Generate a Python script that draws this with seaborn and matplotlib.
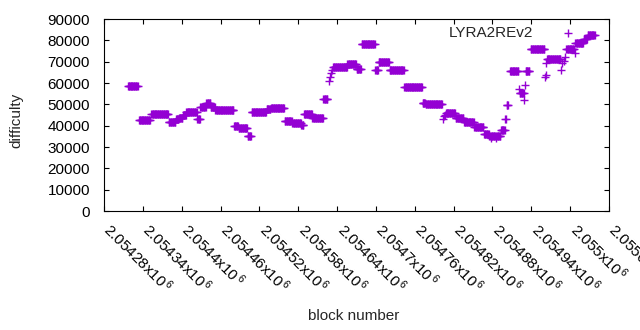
import numpy as np
import pandas as pd
import matplotlib
matplotlib.use('Agg')
import matplotlib.pyplot as plt
import matplotlib.transforms as mtransforms
import seaborn as sns

sns.set_style('ticks')
plt.rcParams['font.family'] = ['Liberation Sans', 'DejaVu Sans']
plt.rcParams['mathtext.default'] = 'regular'

# runs of equal difficulty: first block, last block, difficulty
run_start = [2054317, 2054334, 2054353, 2054380, 2054391, 2054396, 2054402, 2054407,
             2054424, 2054429, 2054438, 2054445, 2054452, 2054481, 2054488, 2054502,
             2054508, 2054531, 2054538, 2054559, 2054571, 2054585, 2054589, 2054602,
             2054619, 2054627, 2054629, 2054631, 2054632, 2054634, 2054656, 2054670,
             2054678, 2054699, 2054704, 2054721, 2054744, 2054772, 2054777, 2054803,
             2054805, 2054807, 2054808, 2054823, 2054836, 2054852, 2054867, 2054875,
             2054878, 2054879, 2054885, 2054886, 2054893, 2054900, 2054902, 2054907,
             2054921, 2054922, 2054929, 2054930, 2054931, 2054939, 2054961, 2054962,
             2054963, 2054964, 2054986, 2054988, 2054990, 2054992, 2054994, 2055007,
             2055008, 2055021, 2055027]
run_end = [2054332, 2054351, 2054379, 2054390, 2054395, 2054401, 2054406, 2054423,
           2054428, 2054437, 2054444, 2054451, 2054480, 2054487, 2054501, 2054507,
           2054530, 2054537, 2054558, 2054570, 2054584, 2054588, 2054601, 2054618,
           2054625, 2054627, 2054629, 2054631, 2054632, 2054655, 2054669, 2054677,
           2054698, 2054703, 2054720, 2054743, 2054771, 2054776, 2054802, 2054803,
           2054805, 2054807, 2054822, 2054835, 2054851, 2054866, 2054874, 2054877,
           2054878, 2054884, 2054885, 2054892, 2054899, 2054901, 2054904, 2054920,
           2054921, 2054928, 2054929, 2054930, 2054937, 2054960, 2054961, 2054962,
           2054963, 2054985, 2054986, 2054988, 2054990, 2054992, 2055006, 2055007,
           2055020, 2055026, 2055038]
run_diff = [58500, 42500, 45300, 41800, 42900, 43800, 45100, 46300,
            43000, 48600, 50600, 48800, 47200, 40000, 38800, 35100,
            46600, 47600, 48100, 42400, 41300, 40200, 45300, 43450,
            52600, 60900, 63000, 64800, 66100, 67350, 69000, 66400,
            78100, 66000, 69800, 66000, 58000, 50600, 50100, 43300,
            44300, 45100, 45900, 43450, 41900, 39250, 36300, 35200,
            34200, 35200, 34300, 35200, 37800, 43000, 49700, 65500,
            57000, 55300, 52000, 59000, 65500, 76100, 63000, 63600,
            69200, 71400, 66300, 69200, 70500, 72300, 76100, 74200,
            78900, 80600, 82350]

xtick_vals = np.arange(2054280, 2055061, 60)
ytick_vals = np.arange(0, 90001, 10000)

blocks = []
diffs = []
for a, b, d in zip(run_start, run_end, run_diff):
    for blk in range(a, b + 1):
        blocks.append(blk)
        diffs.append(d)
data = pd.DataFrame({'block': blocks, 'difficulty': diffs})

fig = plt.figure(figsize=(6.4, 3.3), dpi=100)
ax = fig.add_axes([0.1625, 0.3606, 0.9516 - 0.1625, 0.9424 - 0.3606])

sns.scatterplot(x='block', y='difficulty', data=data, ax=ax, marker='+',
                color='#9400D3', s=28, linewidth=1.0, label='LYRA2REv2')

ax.set_xlim(2054280, 2055060)
ax.set_ylim(0, 90000)
ax.set_xticks(xtick_vals)
ax.set_xticklabels(['%gx10$^{\\,6}$' % (v / 1e6) for v in xtick_vals])
ax.set_yticks(ytick_vals)
ax.set_yticklabels([str(v) for v in ytick_vals])
ax.set_xlabel('')
ax.set_ylabel('')

for sp in ax.spines.values():
    sp.set_visible(True)
    sp.set_linewidth(0.8)
    sp.set_color('black')
ax.tick_params(direction='in', length=3.3, width=0.8, top=True, right=True,
               labelsize=11, colors='black')
ax.tick_params(axis='y', pad=10)
ax.tick_params(axis='x', pad=11)
shift = mtransforms.ScaledTranslation(3 / 100, 0, fig.dpi_scale_trans)
for lab in ax.get_xticklabels():
    lab.set_rotation(-45)
    lab.set_ha('left')
    lab.set_va('center')
    lab.set_rotation_mode('anchor')
    lab.set_transform(lab.get_transform() + shift)

ax.legend(loc='upper right', bbox_to_anchor=(0.956, 0.963), markerfirst=False,
          frameon=False, handlelength=2.5, handletextpad=1.0, borderpad=0,
          borderaxespad=0, fontsize=11)

fig.text(16 / 640, 1 - 120 / 330, 'difficulty', rotation=90, ha='center',
         va='center', fontsize=11)
fig.text(354 / 640, 1 - 316 / 330, 'block number', ha='center', va='center',
         fontsize=11)

fig.savefig('out.png', dpi=100)
